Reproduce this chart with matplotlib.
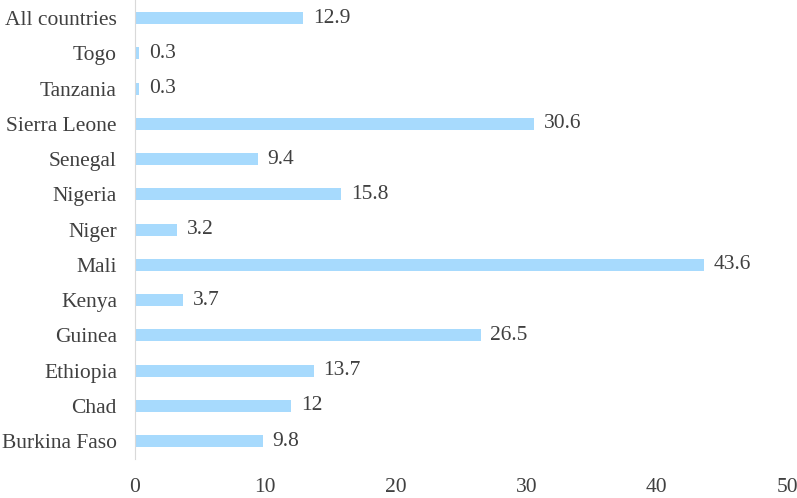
import matplotlib
matplotlib.use("Agg")
import matplotlib.pyplot as plt

# countries listed bottom to top, as drawn
countries = ['Burkina Faso', 'Chad', 'Ethiopia', 'Guinea', 'Kenya', 'Mali', 'Niger',
             'Nigeria', 'Senegal', 'Sierra Leone', 'Tanzania', 'Togo', 'All countries']
values = [9.8, 12, 13.7, 26.5, 3.7, 43.6, 3.2, 15.8, 9.4, 30.6, 0.3, 0.3, 12.9]
value_labels = ['9.8', '12', '13.7', '26.5', '3.7', '43.6', '3.2', '15.8', '9.4',
                '30.6', '0.3', '0.3', '12.9']

plt.rcParams['font.family'] = ['Liberation Serif', 'DejaVu Serif']
text_col = '#404040'
fsize = 15.5

fig = plt.figure(figsize=(7.97, 4.98), dpi=100)
ax = fig.add_axes([0.1694, 0.079, 0.8181, 0.92])

bars = ax.barh(range(len(countries)), values, height=0.34, color='#A7DAFD')
ax.bar_label(bars, labels=value_labels, padding=7, fontsize=fsize, color=text_col)

ax.set_xlim(0, 50)
ax.set_ylim(-0.5, len(countries) - 0.5)
ax.set_xticks([0, 10, 20, 30, 40, 50])
ax.set_yticks(range(len(countries)))
ax.set_yticklabels(countries)

for s in ['top', 'right', 'bottom']:
    ax.spines[s].set_visible(False)
ax.spines['left'].set_color('#D9D9D9')
ax.spines['left'].set_linewidth(0.8)

ax.tick_params(axis='x', length=0, pad=14, labelsize=fsize, labelcolor=text_col)
ax.tick_params(axis='y', length=0, pad=13, labelsize=fsize, labelcolor=text_col)

fig.savefig('out.png', dpi=100)
